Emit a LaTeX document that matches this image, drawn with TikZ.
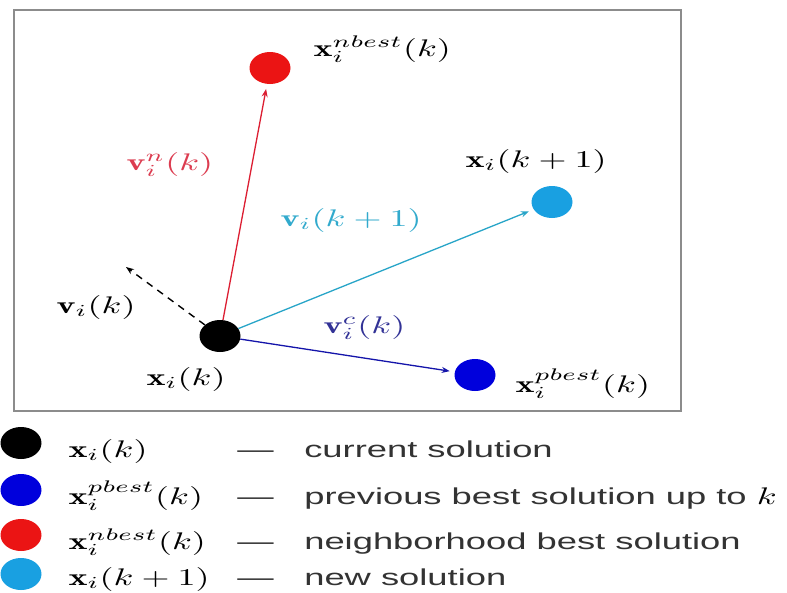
\documentclass[tikz,border=0pt]{standalone}
\usepackage{fontspec}
\setsansfont{Liberation Sans}
\usetikzlibrary{shapes.geometric,arrows.meta}
\definecolor{dotred}{RGB}{235,20,20}
\definecolor{dotblue}{RGB}{0,0,220}
\definecolor{dotcyan}{RGB}{25,160,225}
\definecolor{arrred}{RGB}{220,30,50}
\definecolor{arrcyan}{RGB}{40,165,200}
\definecolor{arrblue}{RGB}{20,20,170}
\definecolor{labred}{RGB}{220,60,80}
\definecolor{labcyan}{RGB}{50,170,205}
\definecolor{labblue}{RGB}{50,50,150}
\definecolor{framegray}{RGB}{140,140,140}
\tikzset{
  dot/.style={ellipse, minimum width=41pt, minimum height=32pt, inner sep=0pt, draw=none},
  mlab/.style={font=\normalsize, scale=2.4, xscale=1.5, inner sep=0pt, anchor=base west},
  slab/.style={font=\sffamily\fontsize{23}{28}\selectfont, xscale=1.58, inner sep=0pt, anchor=base west, text=black!80},
  vec/.style={line width=1.3pt, -{Stealth[length=8pt,width=6pt]}, shorten >=5pt},
}
\begin{document}
\begin{tikzpicture}[x=1pt,y=-1pt]
\useasboundingbox (0,0) rectangle (787,592);
\fill[white] (0,0) rectangle (787,592);
\draw[framegray, line width=1.5pt] (14,10) rectangle (681,411);
% dots
\node[dot, fill=black] (cur) at (220,336) {};
\node[dot, fill=dotred] (nb) at (270,68) {};
\node[dot, fill=dotcyan] (nw) at (552,202) {};
\node[dot, fill=dotblue] (pb) at (475,375) {};
\coordinate (old) at (126,267);
% arrows
\draw[vec, arrred] (cur) -- (nb);
\draw[vec, arrcyan] (cur) -- (nw);
\draw[vec, arrblue] (cur) -- (pb);
\draw[line width=1.4pt, dash pattern=on 7pt off 6pt, -{Stealth[length=8pt,width=6pt]}] (cur) -- (old);
% labels
\node[mlab] (lnb) at (313,56) {$\mathbf{x}_i^{nbest}(k)$};
\node[mlab, text=labred] (lvn) at (126,170) {$\mathbf{v}_i^{n}(k)$};
\node[mlab] (lnw) at (465,167) {$\mathbf{x}_i(k+1)$};
\node[mlab, text=labcyan] (lvnew) at (280,226) {$\mathbf{v}_i(k+1)$};
\node[mlab] (lvold) at (56,313) {$\mathbf{v}_i(k)$};
\node[mlab, text=labblue] (lvc) at (323,333) {$\mathbf{v}_i^{c}(k)$};
\node[mlab] (lcur) at (146,385) {$\mathbf{x}_i(k)$};
\node[mlab] (lpb) at (515,392) {$\mathbf{x}_i^{pbest}(k)$};
% legend
\node[dot, fill=black] (g1) at (21,443) {};
\node[dot, fill=dotblue] (g2) at (21,490) {};
\node[dot, fill=dotred] (g3) at (21,535) {};
\node[dot, fill=dotcyan] (g4) at (21,574) {};
\node[mlab] (m1) at (68,457) {$\mathbf{x}_i(k)$};
\node[mlab] (m2) at (68,504) {$\mathbf{x}_i^{pbest}(k)$};
\node[mlab] (m3) at (68,549) {$\mathbf{x}_i^{nbest}(k)$};
\node[mlab] (m4) at (68,585) {$\mathbf{x}_i(k+1)$};
\node[slab] (d1) at (237,457) {—};
\node[slab] (d2) at (237,504) {—};
\node[slab] (d3) at (237,549) {—};
\node[slab] (d4) at (237,585) {—};
\node[slab] (t1) at (304,457) {current solution};
\node[slab] (t2) at (304,504) {previous best solution up to};
\node[mlab] (t2k) at (t2.base east) [xshift=2.5pt] {$k$};
\node[slab] (t3) at (304,549) {neighborhood best solution};
\node[slab] (t4) at (304,585) {new solution};
\end{tikzpicture}
\end{document}
